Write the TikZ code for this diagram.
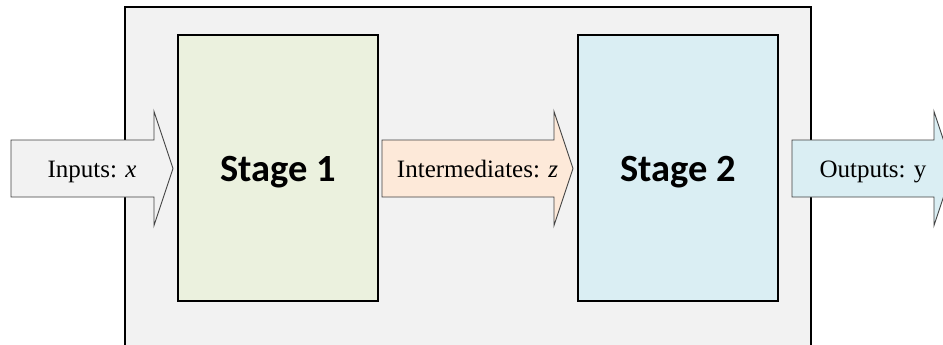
\documentclass[tikz,border=0pt]{standalone}
\usepackage{fontspec}
\setmainfont{Liberation Serif}
\newfontfamily\stagefont{Carlito}
\definecolor{outerfill}{HTML}{F2F2F2}
\definecolor{greenfill}{HTML}{EBF1DE}
\definecolor{bluefill}{HTML}{DAEEF3}
\definecolor{peachfill}{HTML}{FDE9D9}
\definecolor{arrowline}{HTML}{404040}
\tikzset{
  stagebox/.style={draw=black, line width=1.4pt, minimum width=200pt, minimum height=266pt,
    inner sep=0pt, font=\stagefont\bfseries\fontsize{38.5}{44}\selectfont},
  fatarrow/.style={draw=arrowline, line width=0.9pt, line join=miter},
  arrowlabel/.style={inner sep=0pt, anchor=base, font=\fontsize{25}{30}\selectfont},
}
\newcommand\fatarrowpath[4]{% start x, head base x, tip x, fill
  \filldraw[fatarrow, fill=#4] (#1,140) -- (#2,140) -- (#2,111.5) -- (#3,168.5)
    -- (#2,225.5) -- (#2,197) -- (#1,197) -- cycle;}
\newcommand\stagetext[1]{\raisebox{-13.5pt}[0pt][0pt]{#1}}
\begin{document}
\begin{tikzpicture}[x=1pt,y=-1pt]
  \useasboundingbox (0,0) rectangle (943,345);
  \clip (0,0) rectangle (943,345);
  % outer system box
  \filldraw[draw=black, line width=1.2pt, fill=outerfill] (125,7) rectangle (811,380);
  % stages
  \node[stagebox, fill=greenfill] (s1) at (278,168) {\stagetext{Stage 1}};
  \node[stagebox, fill=bluefill] (s2) at (678,168) {\stagetext{Stage 2}};
  % arrows
  \fatarrowpath{11}{154}{173}{outerfill}
  \fatarrowpath{382}{554}{573}{peachfill}
  \fatarrowpath{792}{934}{953}{bluefill}
  \node[arrowlabel] (in) at (92,177) {Inputs: \textit{x}};
  \node[arrowlabel] (mid) at (477.5,177) {Intermediates: \textit{z}};
  \node[arrowlabel] (out) at (873,177.5) {Outputs: y};
\end{tikzpicture}
\end{document}
